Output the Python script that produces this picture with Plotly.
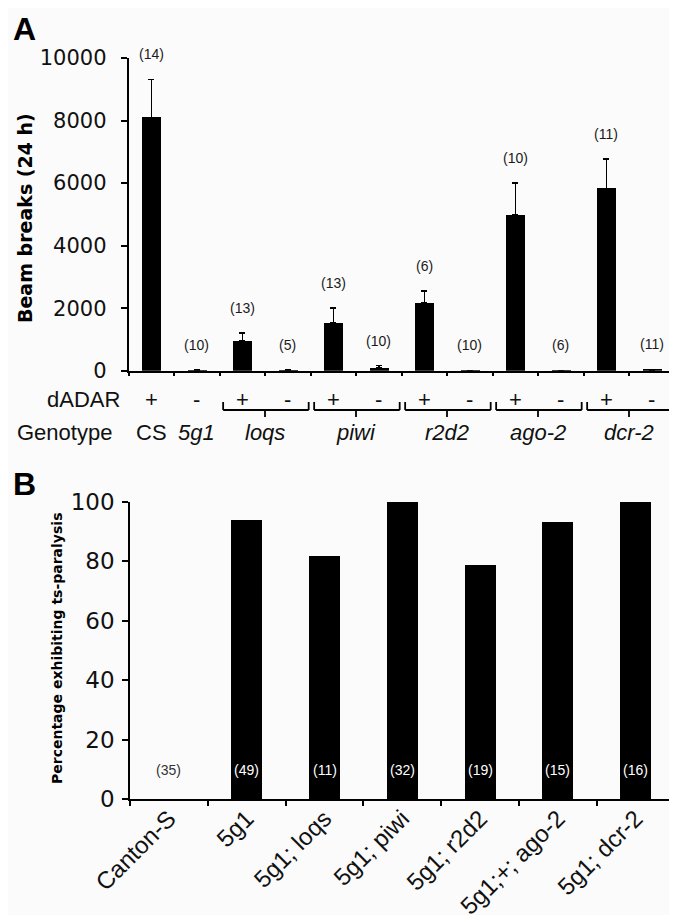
import plotly.graph_objects as go

# ---------------- Panel A data ----------------
genotype_a = ["CS", "5g1", "loqs", "loqs", "piwi", "piwi", "r2d2", "r2d2",
              "ago-2", "ago-2", "dcr-2", "dcr-2"]
dadar = ["+", "-", "+", "-", "+", "-", "+", "-", "+", "-", "+", "-"]
beam = [8100, 20, 960, 20, 1520, 100, 2180, 10, 4980, 10, 5830, 30]
beam_err = [1220, 0, 250, 0, 480, 60, 370, 0, 1030, 0, 940, 10]
n_a = [14, 10, 13, 5, 13, 10, 6, 10, 10, 6, 11, 11]
yticks_a = [0, 2000, 4000, 6000, 8000, 10000]

# ---------------- Panel B data ----------------
genotype_b = ["Canton-S", "5g1", "5g1; loqs", "5g1; piwi", "5g1; r2d2",
              "5g1;+; ago-2", "5g1; dcr-2"]
pct = [0, 93.9, 81.8, 100, 78.9, 93.3, 100]
n_b = [35, 49, 11, 32, 19, 15, 16]
yticks_b = [0, 20, 40, 60, 80, 100]

# page body has an 8px default margin: size the figure to the visible area
OFF = 8
W, H = 677 - OFF, 915 - OFF
def px(x):
    return (x - OFF) / W
def py(y):
    return (H - (y - OFF)) / H

idx_a = list(range(len(beam)))
SANS = "Liberation Sans, Arial, sans-serif"
VERD = "DejaVu Sans, Verdana, sans-serif"

fig = go.Figure()
fig.add_trace(go.Bar(
    x=idx_a, y=beam, xaxis="x", yaxis="y", width=0.41,
    marker=dict(color="black", line=dict(width=0)),
    error_y=dict(type="data", array=beam_err, arrayminus=[0] * len(beam),
                 symmetric=False, color="black", thickness=1.5, width=3),
    showlegend=False, hoverinfo="skip"))
fig.add_trace(go.Bar(
    x=genotype_b, y=pct, xaxis="x2", yaxis="y2", width=0.4,
    marker=dict(color="black", line=dict(width=0)),
    showlegend=False, hoverinfo="skip"))

annotations = []
shapes = []

# N labels panel A
for i, (v, e, n) in enumerate(zip(beam, beam_err, n_a)):
    annotations.append(dict(x=i, y=v + e, xref="x", yref="y", text=f"({n})",
                            showarrow=False, yanchor="middle", yshift=25,
                            font=dict(family=SANS, size=14, color="#1a1a1a")))
# dADAR row
y_dadar = py(399)
annotations.append(dict(x=px(122), y=y_dadar, xref="paper", yref="paper",
                        text="dADAR", showarrow=False, xanchor="right",
                        yanchor="middle", font=dict(family=SANS, size=22, color="#111")))
for i, s in enumerate(dadar):
    annotations.append(dict(x=i, y=y_dadar, xref="x", yref="paper", text=s,
                            showarrow=False, yanchor="middle",
                            font=dict(family=SANS, size=22, color="#111")))
# Genotype row and brackets
y_geno = py(432)
annotations.append(dict(x=px(114), y=y_geno, xref="paper", yref="paper",
                        text="Genotype", showarrow=False, xanchor="right",
                        yanchor="middle", font=dict(family=SANS, size=22, color="#111")))
groups = []
for i, g in enumerate(genotype_a):
    if groups and groups[-1][0] == g:
        groups[-1][1].append(i)
    else:
        groups.append((g, [i]))
line_style = dict(color="black", width=1.8)
for g, members in groups:
    center = sum(members) / len(members)
    label = g if g == "CS" else f"<i>{g}</i>"
    annotations.append(dict(x=center, y=y_geno, xref="x", yref="paper", text=label,
                            showarrow=False, yanchor="middle",
                            font=dict(family=SANS, size=22, color="#111")))
    if len(members) > 1:
        x0 = members[0] - 0.42
        x1 = members[-1] + 0.46
        yb, yt, yd = py(410), py(402), py(417)
        shapes.append(dict(type="line", xref="x", yref="paper", x0=x0, x1=x1,
                           y0=yb, y1=yb, line=line_style))
        shapes.append(dict(type="line", xref="x", yref="paper", x0=x0, x1=x0,
                           y0=yb, y1=yt, line=line_style))
        shapes.append(dict(type="line", xref="x", yref="paper", x0=x1, x1=x1,
                           y0=yb, y1=yt, line=line_style))
        shapes.append(dict(type="line", xref="x", yref="paper", x0=center, x1=center,
                           y0=yb, y1=yd, line=line_style))

# N labels panel B
for g, v, n in zip(genotype_b, pct, n_b):
    annotations.append(dict(x=g, y=10, xref="x2", yref="y2", text=f"({n})",
                            showarrow=False, yanchor="middle",
                            font=dict(family=SANS, size=14,
                                      color="white" if v > 0 else "#333")))

# Axis titles and panel letters
annotations.append(dict(x=px(25), y=py(218), xref="paper", yref="paper",
                        text="<b>Beam breaks (24 h)</b>", textangle=-90,
                        showarrow=False, xanchor="center", yanchor="middle",
                        font=dict(family=VERD, size=19, color="black")))
annotations.append(dict(x=px(57), y=py(649), xref="paper", yref="paper",
                        text="<b>Percentage exhibiting ts-paralysis</b>", textangle=-90,
                        showarrow=False, xanchor="center", yanchor="middle",
                        font=dict(family=VERD, size=14, color="black")))
annotations.append(dict(x=px(11), y=py(29), xref="paper", yref="paper",
                        text="<b>A</b>", showarrow=False, xanchor="left",
                        yanchor="middle", font=dict(family=SANS, size=32, color="black")))
annotations.append(dict(x=px(11), y=py(484), xref="paper", yref="paper",
                        text="<b>B</b>", showarrow=False, xanchor="left",
                        yanchor="middle", font=dict(family=SANS, size=32, color="black")))

axis_common = dict(showline=True, linecolor="black", linewidth=1.5,
                   showgrid=False, zeroline=False, ticks="outside",
                   tickcolor="black", tickwidth=1.5, automargin=False)

fig.update_layout(
    width=W, height=H,
    margin=dict(l=0, r=0, t=0, b=0, pad=0),
    paper_bgcolor="#fbfbfb", plot_bgcolor="#fbfbfb",
    bargap=0,
    xaxis=dict(domain=[px(128.5), px(674.5)], anchor="y",
               range=[-0.5, len(beam) - 0.5],
               tickmode="array",
               tickvals=[i - 0.5 for i in range(len(beam) + 1)],
               showticklabels=False, ticklen=4, **axis_common),
    yaxis=dict(domain=[py(370.7), py(58)], anchor="x",
               range=[0, 10000], tickmode="array", tickvals=yticks_a,
               ticktext=[str(v) for v in yticks_a],
               ticklen=6, ticklabelstandoff=10,
               tickfont=dict(family=VERD, size=21, color="#111"), **axis_common),
    xaxis2=dict(domain=[px(130), px(674.6)], anchor="y2", type="category",
                categoryorder="array", categoryarray=genotype_b,
                range=[-0.5, len(genotype_b) - 0.5],
                tickson="boundaries", ticklen=5, tickangle=-45,
                ticklabelstandoff=-6,
                tickfont=dict(family=SANS, size=24, color="#111"), **axis_common),
    yaxis2=dict(domain=[py(799.3), py(501.7)], anchor="x2",
                range=[0, 100], tickmode="array", tickvals=yticks_b,
                ticktext=[str(v) for v in yticks_b],
                ticklen=6, ticklabelstandoff=3,
                tickfont=dict(family=VERD, size=23, color="#111"), **axis_common),
    annotations=annotations,
    shapes=shapes,
)

fig.write_html("out.html", config={"responsive": False})
